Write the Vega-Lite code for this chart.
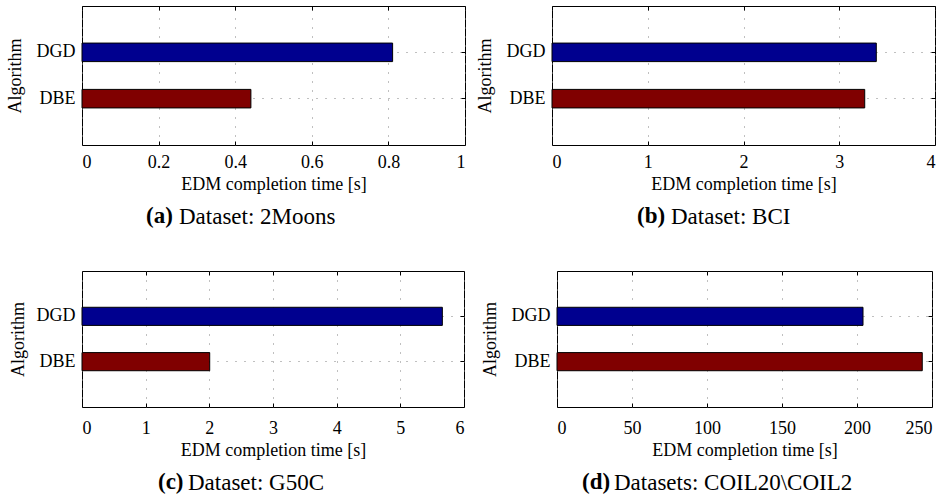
{
  "$schema": "https://vega.github.io/schema/vega-lite/v6.json",
  "background": "white",
  "config": {
    "font": "Liberation Serif",
    "view": {"stroke": "black", "strokeWidth": 1},
    "axis": {
      "labelFont": "Liberation Serif",
      "titleFont": "Liberation Serif",
      "labelFontSize": 18,
      "titleFontSize": 18,
      "titleFontWeight": "normal",
      "labelColor": "black",
      "titleColor": "black",
      "domain": false,
      "tickColor": "black",
      "tickSize": -4,
      "gridColor": "#808080",
      "gridDash": [1, 8],
      "gridWidth": 1
    },
    "title": {
      "orient": "bottom",
      "anchor": "start",
      "frame": "group",
      "font": "Liberation Serif",
      "fontSize": 23,
      "fontWeight": "bold",
      "color": "black",
      "offset": 12
    }
  },
  "vconcat": [
    {
      "hconcat": [
        {
          "title": {"text": "Dataset: 2Moons", "fontWeight": "normal", "dx": 97, "offset": -23},
          "vconcat": [
            {
              "width": 383, "height": 139,
              "title": {"text": "(a)", "dx": 64},
              "data": {"values": [{"Algorithm": "DGD", "time": 0.811}, {"Algorithm": "DBE", "time": 0.441}]},
              "layer": [
                {
                  "mark": {"type": "bar", "stroke": "black", "strokeWidth": 1},
                  "encoding": {
                    "y": {"field": "Algorithm", "type": "nominal", "sort": ["DGD", "DBE"], "scale": {"paddingInner": 0.6, "paddingOuter": 0.8}, "axis": {"title": "Algorithm", "grid": true, "labelPadding": 11, "titlePadding": 12}},
                    "x": {"field": "time", "type": "quantitative", "scale": {"domain": [0, 1], "nice": false}, "axis": {"title": "EDM completion time [s]", "values": [0, 0.2, 0.4, 0.6, 0.8, 1], "format": "~r", "grid": true, "labelPadding": 12, "titlePadding": 4}},
                    "color": {"field": "Algorithm", "type": "nominal", "scale": {"domain": ["DGD", "DBE"], "range": ["#00008F", "#800000"]}, "legend": null}
                  }
                },
                {
                  "mark": {"type": "bar", "opacity": 0},
                  "encoding": {
                    "y": {"field": "Algorithm", "type": "nominal", "sort": ["DGD", "DBE"], "axis": {"orient": "right", "labels": false, "title": null, "grid": false}},
                    "x": {"field": "time", "type": "quantitative", "axis": {"orient": "top", "labels": false, "title": null, "grid": false, "values": [0, 0.2, 0.4, 0.6, 0.8, 1]}}
                  }
                }
              ],
              "resolve": {"axis": {"x": "independent", "y": "independent"}}
            }
          ]
        },
        {
          "title": {"text": "Dataset: BCI", "fontWeight": "normal", "dx": 119, "offset": -23},
          "vconcat": [
            {
              "width": 383, "height": 139,
              "title": {"text": "(b)", "dx": 85},
              "data": {"values": [{"Algorithm": "DGD", "time": 3.387}, {"Algorithm": "DBE", "time": 3.266}]},
              "layer": [
                {
                  "mark": {"type": "bar", "stroke": "black", "strokeWidth": 1},
                  "encoding": {
                    "y": {"field": "Algorithm", "type": "nominal", "sort": ["DGD", "DBE"], "scale": {"paddingInner": 0.6, "paddingOuter": 0.8}, "axis": {"title": "Algorithm", "grid": true, "labelPadding": 11, "titlePadding": 12}},
                    "x": {"field": "time", "type": "quantitative", "scale": {"domain": [0, 4], "nice": false}, "axis": {"title": "EDM completion time [s]", "values": [0, 1, 2, 3, 4], "format": "~r", "grid": true, "labelPadding": 12, "titlePadding": 4}},
                    "color": {"field": "Algorithm", "type": "nominal", "scale": {"domain": ["DGD", "DBE"], "range": ["#00008F", "#800000"]}, "legend": null}
                  }
                },
                {
                  "mark": {"type": "bar", "opacity": 0},
                  "encoding": {
                    "y": {"field": "Algorithm", "type": "nominal", "sort": ["DGD", "DBE"], "axis": {"orient": "right", "labels": false, "title": null, "grid": false}},
                    "x": {"field": "time", "type": "quantitative", "axis": {"orient": "top", "labels": false, "title": null, "grid": false, "values": [0, 1, 2, 3, 4]}}
                  }
                }
              ],
              "resolve": {"axis": {"x": "independent", "y": "independent"}}
            }
          ]
        }
      ],
      "spacing": 9
    },
    {
      "hconcat": [
        {
          "title": {"text": "Dataset: G50C", "fontWeight": "normal", "dx": 106, "offset": -23},
          "vconcat": [
            {
              "width": 382, "height": 136,
              "title": {"text": "(c)", "dx": 76},
              "data": {"values": [{"Algorithm": "DGD", "time": 5.66}, {"Algorithm": "DBE", "time": 2.006}]},
              "layer": [
                {
                  "mark": {"type": "bar", "stroke": "black", "strokeWidth": 1},
                  "encoding": {
                    "y": {"field": "Algorithm", "type": "nominal", "sort": ["DGD", "DBE"], "scale": {"paddingInner": 0.6, "paddingOuter": 0.8}, "axis": {"title": "Algorithm", "grid": true, "labelPadding": 11, "titlePadding": 9}},
                    "x": {"field": "time", "type": "quantitative", "scale": {"domain": [0, 6], "nice": false}, "axis": {"title": "EDM completion time [s]", "values": [0, 1, 2, 3, 4, 5, 6], "format": "~r", "grid": true, "labelPadding": 16, "titlePadding": 4}},
                    "color": {"field": "Algorithm", "type": "nominal", "scale": {"domain": ["DGD", "DBE"], "range": ["#00008F", "#800000"]}, "legend": null}
                  }
                },
                {
                  "mark": {"type": "bar", "opacity": 0},
                  "encoding": {
                    "y": {"field": "Algorithm", "type": "nominal", "sort": ["DGD", "DBE"], "axis": {"orient": "right", "labels": false, "title": null, "grid": false}},
                    "x": {"field": "time", "type": "quantitative", "axis": {"orient": "top", "labels": false, "title": null, "grid": false, "values": [0, 1, 2, 3, 4, 5, 6]}}
                  }
                }
              ],
              "resolve": {"axis": {"x": "independent", "y": "independent"}}
            }
          ]
        },
        {
          "title": {"text": "Datasets: COIL20\\COIL2", "fontWeight": "normal", "dx": 57, "offset": -23},
          "vconcat": [
            {
              "width": 375, "height": 136,
              "title": {"text": "(d)", "dx": 25},
              "data": {"values": [{"Algorithm": "DGD", "time": 204}, {"Algorithm": "DBE", "time": 243.5}]},
              "layer": [
                {
                  "mark": {"type": "bar", "stroke": "black", "strokeWidth": 1},
                  "encoding": {
                    "y": {"field": "Algorithm", "type": "nominal", "sort": ["DGD", "DBE"], "scale": {"paddingInner": 0.6, "paddingOuter": 0.8}, "axis": {"title": "Algorithm", "grid": true, "labelPadding": 11, "titlePadding": 12}},
                    "x": {"field": "time", "type": "quantitative", "scale": {"domain": [0, 250], "nice": false}, "axis": {"title": "EDM completion time [s]", "values": [0, 50, 100, 150, 200, 250], "format": "~r", "grid": true, "labelPadding": 16, "titlePadding": 4}},
                    "color": {"field": "Algorithm", "type": "nominal", "scale": {"domain": ["DGD", "DBE"], "range": ["#00008F", "#800000"]}, "legend": null}
                  }
                },
                {
                  "mark": {"type": "bar", "opacity": 0},
                  "encoding": {
                    "y": {"field": "Algorithm", "type": "nominal", "sort": ["DGD", "DBE"], "axis": {"orient": "right", "labels": false, "title": null, "grid": false}},
                    "x": {"field": "time", "type": "quantitative", "axis": {"orient": "top", "labels": false, "title": null, "grid": false, "values": [0, 50, 100, 150, 200, 250]}}
                  }
                }
              ],
              "resolve": {"axis": {"x": "independent", "y": "independent"}}
            }
          ]
        }
      ],
      "spacing": 15
    }
  ],
  "spacing": 41
}
